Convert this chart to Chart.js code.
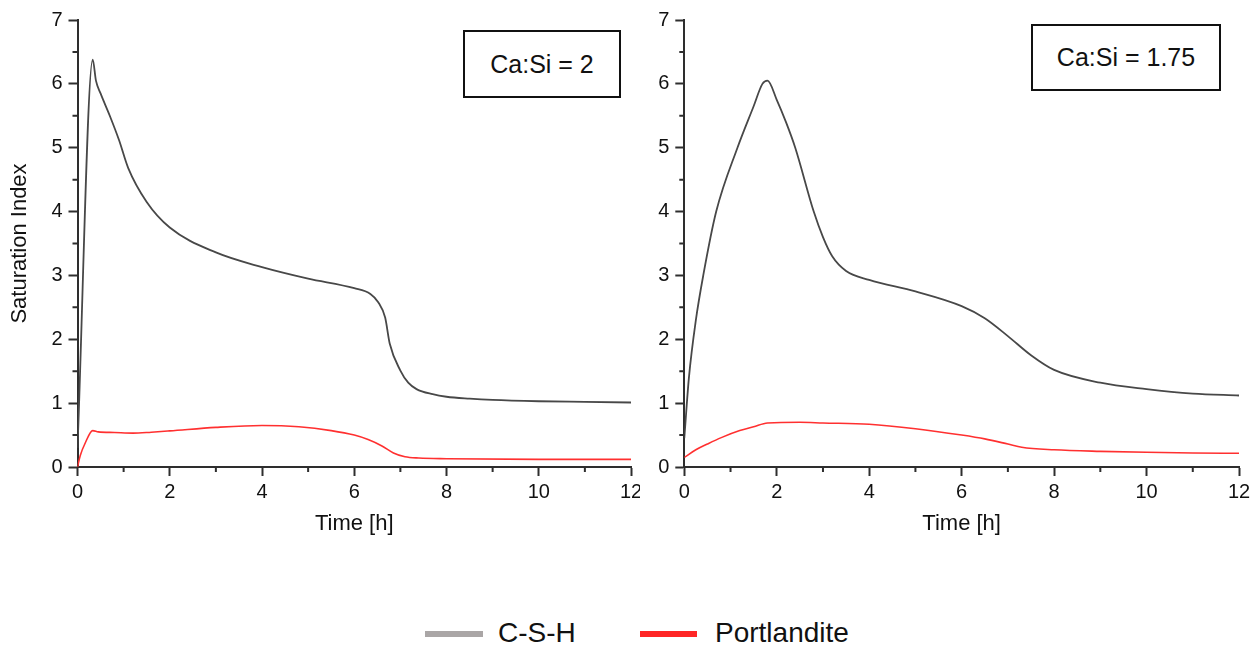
<!DOCTYPE html>
<html>
<head>
<meta charset="utf-8">
<script src="https://cdn.jsdelivr.net/npm/chart.js@4"></script>
<style>
  html, body { margin: 0; padding: 0; background: #fff; }
  body { width: 1259px; height: 645px; position: relative; overflow: hidden; font-family: "Liberation Sans", Arial, sans-serif; }
  canvas { position: absolute; top: 0; }
  #cLeft { left: 0; }
  #cRight { left: 640px; }
  .box { position: absolute; border: 2px solid #111; box-sizing: border-box; display: flex; align-items: center; justify-content: center; font-size: 25px; color: #111; background: #fff; }
  .leg-line { position: absolute; height: 6px; }
  .leg-text { position: absolute; font-size: 28px; line-height: 32px; color: #111; white-space: nowrap; }
</style>
</head>
<body>
<canvas id="cLeft" width="640" height="540"></canvas>
<canvas id="cRight" width="619" height="540"></canvas>
<div class="box" style="left:463px; top:30px; width:158px; height:68px;">Ca:Si = 2</div>
<div class="box" style="left:1031px; top:24px; width:190px; height:67px;">Ca:Si = 1.75</div>
<div class="leg-line" style="left:425px; top:631px; width:58px; background:#aaa6a6;"></div>
<div class="leg-text" style="left:498px; top:617px;">C-S-H</div>
<div class="leg-line" style="left:640px; top:631px; width:57px; background:#ff2626;"></div>
<div class="leg-text" style="left:715px; top:617px;">Portlandite</div>
<script>
// ---- Data ----
const seriesNames = ["C-S-H", "Portlandite"];
const panelLabels = ["Ca:Si = 2", "Ca:Si = 1.75"];
const xTicks = [0, 2, 4, 6, 8, 10, 12];
const yTicks = [0, 1, 2, 3, 4, 5, 6, 7];

// Ca:Si = 2
const leftTimeCSH = [0, 0.33, 0.4, 0.5, 0.7, 0.9, 1.1, 1.5, 2, 3, 4, 5, 6, 6.35, 6.52, 6.67, 6.77, 7.0, 7.17, 7.35, 7.7, 8, 8.5, 9, 10, 11, 12];
const leftCSH     = [0.3, 6.38, 6.05, 5.85, 5.5, 5.12, 4.68, 4.15, 3.75, 3.36, 3.13, 2.95, 2.8, 2.71, 2.58, 2.34, 1.93, 1.51, 1.32, 1.22, 1.14, 1.10, 1.07, 1.05, 1.03, 1.02, 1.01];
const leftTimeP   = [0, 0.06, 0.17, 0.33, 0.45, 0.8, 1.2, 1.6, 2, 3, 4, 4.8, 5.5, 6, 6.3, 6.6, 6.85, 7.1, 7.4, 8, 10, 12];
const leftP       = [0, 0.18, 0.38, 0.57, 0.55, 0.54, 0.53, 0.545, 0.565, 0.62, 0.65, 0.63, 0.57, 0.5, 0.43, 0.33, 0.22, 0.16, 0.14, 0.13, 0.12, 0.12];

// Ca:Si = 1.75
const rightTimeCSH = [0, 0.1, 0.25, 0.41, 0.69, 1.15, 1.5, 1.69, 1.8, 2.0, 2.2, 2.4, 2.8, 3.0, 3.2, 3.5, 4, 5, 6, 6.5, 7, 7.5, 8, 9, 10, 11, 12];
const rightCSH     = [0.45, 1.4, 2.3, 3.0, 4.0, 5.0, 5.65, 6.0, 6.05, 5.75, 5.4, 5.0, 4.0, 3.6, 3.3, 3.07, 2.93, 2.75, 2.52, 2.33, 2.05, 1.75, 1.52, 1.32, 1.22, 1.15, 1.12];
const rightTimeP   = [0, 0.25, 0.5, 0.8, 1.2, 1.5, 1.8, 2.5, 3, 4, 5, 6, 6.5, 7, 7.3, 8, 9, 10, 11, 12];
const rightP       = [0.15, 0.27, 0.36, 0.46, 0.57, 0.63, 0.69, 0.70, 0.69, 0.67, 0.6, 0.5, 0.44, 0.36, 0.31, 0.27, 0.245, 0.23, 0.22, 0.215];

const FONT = "'Liberation Sans', Arial, sans-serif";
const AXIS = "#2e2e2e";

function pts(xs, ys) { return xs.map((x, i) => ({ x: x, y: ys[i] })); }

const minorTicks = {
  id: 'minorTicks',
  afterDraw(chart) {
    const ctx = chart.ctx, xs = chart.scales.x, ys = chart.scales.y;
    const a = chart.chartArea;
    ctx.save();
    ctx.strokeStyle = AXIS;
    ctx.lineWidth = 2;
    ctx.beginPath();
    for (let i = 0; i < xTicks.length - 1; i++) {
      const px = xs.getPixelForValue((xTicks[i] + xTicks[i + 1]) / 2);
      ctx.moveTo(px, a.bottom);
      ctx.lineTo(px, a.bottom + 5);
    }
    for (let i = 0; i < yTicks.length - 1; i++) {
      const py = ys.getPixelForValue((yTicks[i] + yTicks[i + 1]) / 2);
      ctx.moveTo(a.left, py);
      ctx.lineTo(a.left - 5, py);
    }
    ctx.stroke();
    ctx.restore();
  }
};

function makeChart(id, tC, vC, tP, vP, opts) {
  return new Chart(document.getElementById(id), {
    type: 'line',
    data: {
      datasets: [
        { label: seriesNames[0], data: pts(tC, vC), borderColor: '#484848', borderWidth: 1.8, pointRadius: 0, cubicInterpolationMode: 'monotone', fill: false },
        { label: seriesNames[1], data: pts(tP, vP), borderColor: '#ff3030', borderWidth: 1.6, pointRadius: 0, cubicInterpolationMode: 'monotone', fill: false }
      ]
    },
    options: {
      responsive: false,
      animation: false,
      devicePixelRatio: 1,
      layout: { padding: { left: 0, top: 20, right: opts.padRight, bottom: 0 } },
      plugins: { legend: { display: false }, tooltip: { enabled: false }, title: { display: false } },
      scales: {
        x: {
          type: 'linear', min: 0, max: 12,
          grid: { display: true, drawOnChartArea: false, drawTicks: true, tickLength: 9, tickWidth: 2, tickColor: AXIS },
          border: { display: true, color: AXIS, width: 2 },
          ticks: { stepSize: 2, padding: 4, color: '#111', font: { family: FONT, size: 20 }, maxRotation: 0, autoSkip: false },
          title: { display: true, text: 'Time [h]', color: '#111', font: { family: FONT, size: 22 }, padding: { top: 0, bottom: 3 } },
          afterFit(s) { s.height = 73; s.paddingLeft = 0; s.paddingRight = 0; }
        },
        y: {
          type: 'linear', min: 0, max: 7,
          grid: { display: true, drawOnChartArea: false, drawTicks: true, tickLength: 9, tickWidth: 2, tickColor: AXIS },
          border: { display: true, color: AXIS, width: 2 },
          ticks: { stepSize: 1, padding: 6, color: '#111', font: { family: FONT, size: 20 } },
          title: { display: opts.yTitle, text: 'Saturation Index', color: '#111', font: { family: FONT, size: 22 }, padding: { top: 7, bottom: 0 } },
          afterFit(s) { s.width = opts.yWidth; s.paddingTop = 0; s.paddingBottom = 0; }
        }
      }
    },
    plugins: [minorTicks]
  });
}

makeChart('cLeft', leftTimeCSH, leftCSH, leftTimeP, leftP, { padRight: 9, yWidth: 77.5, yTitle: true });
makeChart('cRight', rightTimeCSH, rightCSH, rightTimeP, rightP, { padRight: 20, yWidth: 44.3, yTitle: false });
</script>
</body>
</html>
